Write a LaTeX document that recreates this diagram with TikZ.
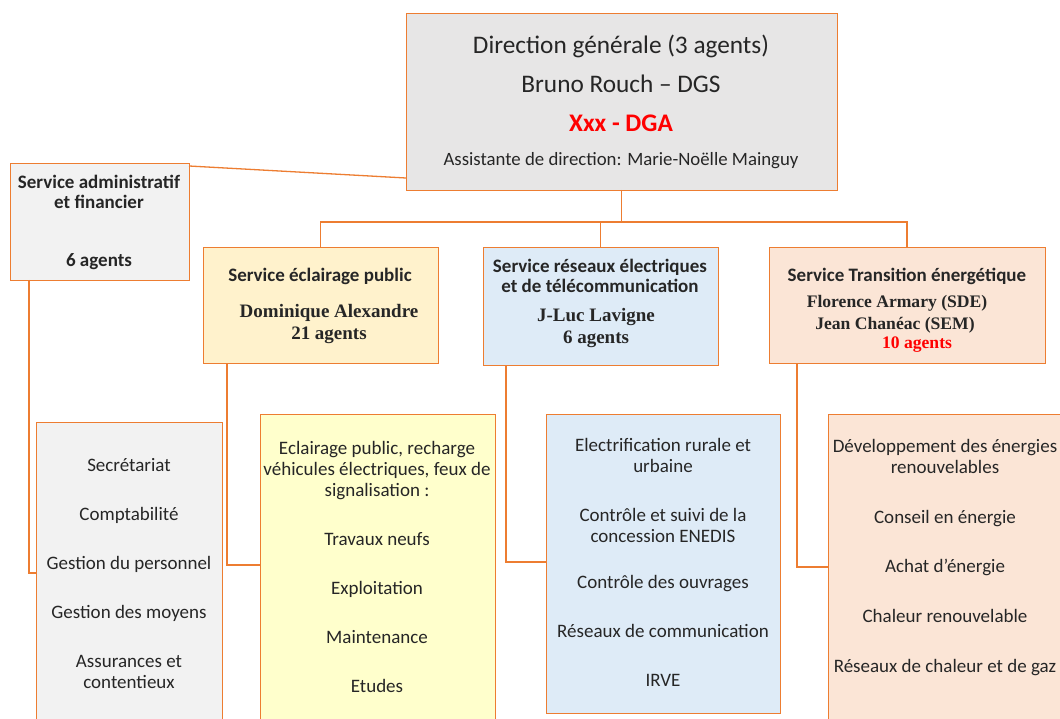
\documentclass[tikz,border=0pt]{standalone}
\usepackage{fontspec}
\setmainfont{Carlito}
\newfontfamily\serifnoms{Liberation Serif}

\definecolor{bordure}{RGB}{237,125,49}
\definecolor{fonddg}{RGB}{231,230,230}
\definecolor{fondgris}{RGB}{242,242,242}
\definecolor{fondocre}{RGB}{255,242,204}
\definecolor{fondjaune}{RGB}{255,255,204}
\definecolor{fondbleu}{RGB}{222,235,247}
\definecolor{fondrose}{RGB}{251,229,214}
\definecolor{rouge}{RGB}{255,0,0}
\definecolor{encre}{RGB}{38,38,38}

\tikzset{
  cadre/.style={draw=bordure, line width=0.9pt, inner sep=0pt, outer sep=0pt, anchor=north west},
  lien/.style={draw=bordure, line width=1.3pt},
  titre/.style={font=\fontsize{19}{20}\selectfont\bfseries, align=center, inner sep=0pt, text=encre},
  noms/.style={font=\fontsize{19}{22}\selectfont\serifnoms\bfseries, align=center, inner sep=0pt, text=encre},
  liste/.style={font=\fontsize{19}{21}\selectfont, align=center, inner sep=0pt, text=encre},
}

\begin{document}
\begin{tikzpicture}[x=1pt,y=-1pt]
  \path[use as bounding box, fill=white] (0,0) rectangle (1060,719);

  % boites
  \node[cadre, fill=fonddg, minimum width=431pt, minimum height=177pt] (dg) at (406,13) {};
  \node[cadre, fill=fondgris, minimum width=179pt, minimum height=117pt] (saf) at (10,163) {};
  \node[cadre, fill=fondocre, minimum width=235pt, minimum height=116pt] (sep) at (203,247) {};
  \node[cadre, fill=fondbleu, minimum width=235pt, minimum height=118pt] (sre) at (483,247) {};
  \node[cadre, fill=fondrose, minimum width=276pt, minimum height=116pt] (ste) at (769,247) {};
  \node[cadre, fill=fondgris, minimum width=186pt, minimum height=330pt] (lsaf) at (36,422) {};
  \node[cadre, fill=fondjaune, minimum width=235pt, minimum height=340pt] (lsep) at (260,414) {};
  \node[cadre, fill=fondbleu, minimum width=234pt, minimum height=299pt] (lsre) at (546,414) {};
  \node[cadre, fill=fondrose, minimum width=260pt, minimum height=340pt] (lste) at (828,414) {};

  % liens
  \coordinate (bus) at (0,222);
  \draw[lien] ([yshift=-3pt]saf.north east) -- ([yshift=12pt]dg.south west);
  \draw[lien] (dg.south) -- (dg.south |- bus);
  \draw[lien] (sep.north) -- (sep.north |- bus) -- (ste.north |- bus) -- (ste.north);
  \draw[lien] (sre.north) -- (sre.north |- bus);
  \draw[lien] ([xshift=19pt]saf.south west) |- ([yshift=-151pt]lsaf.north west);
  \draw[lien] ([xshift=24pt]sep.south west) |- ([yshift=-151pt]lsep.north west);
  \draw[lien] ([xshift=23pt]sre.south west) |- ([yshift=-148pt]lsre.north west);
  \draw[lien] ([xshift=28pt]ste.south west) |- ([yshift=-153pt]lste.north west);

  % textes
  \node[align=center, inner sep=0pt, text=encre, font=\fontsize{25.3}{39}\selectfont] (dgtxt) at (621,101.5)
    {Direction générale (3 agents)\\Bruno Rouch – DGS\\{\bfseries\color{rouge}Xxx - DGA}\\[-5pt]{\fontsize{18.8}{20}\selectfont Assistante de direction: Marie-Noëlle Mainguy}};
  \node[titre] (saftxt) at (99,222) {Service administratif\\et financier\\[38pt]6 agents};
  \node[titre] (sept) at (320,276) {Service éclairage public};
  \node[noms] (sepn) at (329,324) {Dominique Alexandre\\21 agents};
  \node[titre] (sret) at (600,276) {Service réseaux électriques\\et de télécommunication};
  \node[noms] (sren) at (596,328) {J-Luc Lavigne\\6 agents};
  \node[titre] (stet) at (907,276) {Service Transition énergétique};
  \node[noms, font=\fontsize{17.6}{20}\selectfont\serifnoms\bfseries] (stea) at (897,303) {Florence Armary (SDE)};
  \node[noms, font=\fontsize{17.6}{20}\selectfont\serifnoms\bfseries] (steb) at (895,325) {Jean Chanéac (SEM)};
  \node[noms, font=\fontsize{17.6}{20}\selectfont\serifnoms\bfseries, text=rouge] (stec) at (917,345) {10 agents};

  \node[liste] (lsaft) at (129,574)
    {Secrétariat\\[28pt]Comptabilité\\[28pt]Gestion du personnel\\[28pt]Gestion des moyens\\[28pt]Assurances et\\contentieux};
  \node[liste] (lsept) at (377,566.5)
    {Eclairage public, recharge\\véhicules électriques, feux de\\signalisation :\\[28pt]Travaux neufs\\[28pt]Exploitation\\[28pt]Maintenance\\[28pt]Etudes};
  \node[liste] (lsret) at (663,562.5)
    {Electrification rurale et\\urbaine\\[28pt]Contrôle et suivi de la\\concession ENEDIS\\[25pt]Contrôle des ouvrages\\[28pt]Réseaux de communication\\[28pt]IRVE};
  \node[liste] (lstet) at (945,557.5)
    {Développement des énergies\\renouvelables\\[29pt]Conseil en énergie\\[28pt]Achat d’énergie\\[29pt]Chaleur renouvelable\\[29pt]Réseaux de chaleur et de gaz};
\end{tikzpicture}
\end{document}
